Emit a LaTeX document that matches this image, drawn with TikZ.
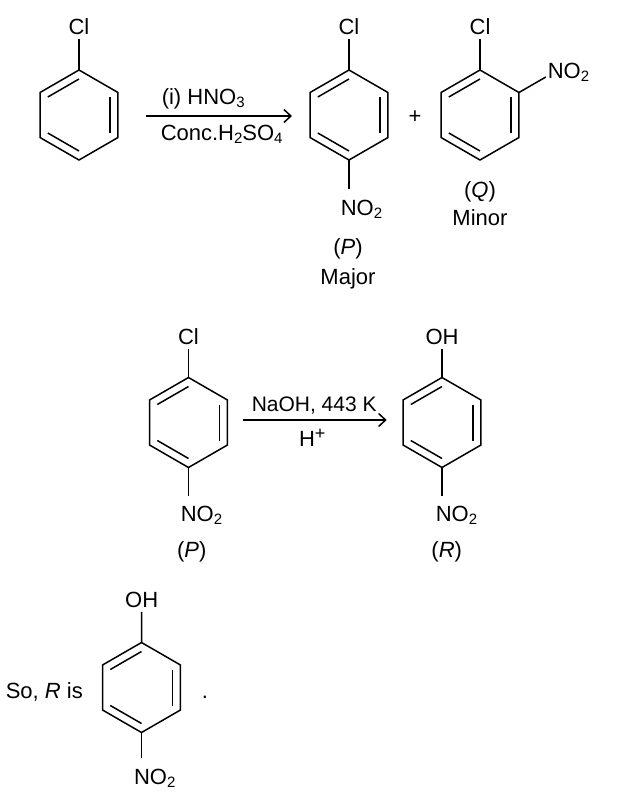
\documentclass[tikz,border=0pt]{standalone}
\usepackage{fontspec}
\setmainfont{Liberation Sans}
\usetikzlibrary{positioning,arrows.meta}
\newcommand{\chsub}[1]{\raisebox{-3pt}{\fontsize{15}{16}\selectfont #1}}
\newcommand{\chsup}[1]{\raisebox{7pt}{\fontsize{18}{18}\selectfont #1}}

\begin{document}
\begin{tikzpicture}[x=1pt,y=-1pt,line width=1.5pt,
	>={Straight Barb[length=7pt,width=13pt]},
	lbl/.style={font=\fontsize{22}{26}\selectfont},
	txt/.style={lbl,inner sep=0pt,anchor=base},
	grp/.style={lbl,inner xsep=0pt,inner ysep=10pt,anchor=base west},
	benzene/.pic={
		\foreach \a in {1,...,6}{
			\coordinate (-\a) at (-150+60*\a:45);
		}
		\draw (-1) -- (-2) -- (-3) -- (-4) -- (-5) -- (-6) -- cycle;
		\draw (-150:36) -- (-90:36);
		\draw (-30:36) -- (30:36);
		\draw (90:36) -- (150:36);
	}]
	\useasboundingbox (0,0) rectangle (631,804);
	% nitration
	\pic (cb) at (79,115) {benzene};
	\node[lbl] (clcb) at (79,26.5) {Cl};
	\draw (cb-1) -- (clcb);
	\coordinate (a1s) at (146,116);
	\coordinate (a1e) at (292,116);
	\draw[->] (a1s) -- (a1e);
	\node[txt,anchor=base west] (hno) at (161,104) {(i) HNO\chsub{3}};
	\node[txt,anchor=base west] (conc) at (160,140) {Conc.H\chsub{2}SO\chsub{4}};
	\pic (p) at (349,115) {benzene};
	\node[lbl] (clp) at (349,26.5) {Cl};
	\draw (p-1) -- (clp);
	\node[grp] (no2p) at (340,215) {NO\chsub{2}};
	\draw (p-4) -- (p-4 |- no2p.north);
	\node[txt] (pp) at (348,254) {(\textit{P})};
	\node[txt] (major) at (348,284) {Major};
	\node[lbl] (plus) at (415,117) {+};
	\pic (q) at (480,115) {benzene};
	\node[lbl] (clq) at (480,26.5) {Cl};
	\draw (q-1) -- (clq);
	\draw (q-2) -- ++(-30:31) coordinate (qn);
	\node[txt,anchor=base west] (no2q) at (547,78.3) {NO\chsub{2}};
	\node[txt] (qq) at (480,197) {(\textit{Q})};
	\node[txt] (minor) at (480,225) {Minor};
	% hydrolysis
	\pic (p2) at (188.5,422.5) {benzene};
	\node[lbl] (clp2) at (188.5,336.7) {Cl};
	\draw (p2-1) -- (clp2);
	\node[grp] (no2p2) at (180,521.7) {NO\chsub{2}};
	\draw (p2-4) -- (p2-4 |- no2p2.north);
	\node[txt] (pp2) at (191.7,557) {(\textit{P})};
	\coordinate (a2s) at (243.3,420);
	\coordinate (a2e) at (386.7,420);
	\draw[->] (a2s) -- (a2e);
	\node[txt,anchor=base west,font=\fontsize{21}{25}\selectfont] (naoh) at (251,411.7) {NaOH, 443 K};
	\node[txt,anchor=base west] (hplus) at (298.3,446.7) {H\chsup{+}};
	\pic (r) at (442,422.5) {benzene};
	\node[lbl] (ohr) at (442,336.7) {OH};
	\draw (r-1) -- (ohr);
	\node[grp] (no2r) at (435,521.7) {NO\chsub{2}};
	\draw (r-4) -- (r-4 |- no2r.north);
	\node[txt] (rr) at (446.7,557) {(\textit{R})};
	% answer
	\node[txt,anchor=base west] (so) at (5,698.3) {So, \textit{R} is};
	\pic (ans) at (141.5,687.5) {benzene};
	\node[lbl] (ohans) at (141.7,600) {OH};
	\draw (ans-1) -- (ohans);
	\node[grp] (no2ans) at (133.3,784) {NO\chsub{2}};
	\draw (ans-4) -- (ans-4 |- no2ans.north);
	\node[txt] (dot) at (205,698.3) {.};
\end{tikzpicture}
\end{document}
